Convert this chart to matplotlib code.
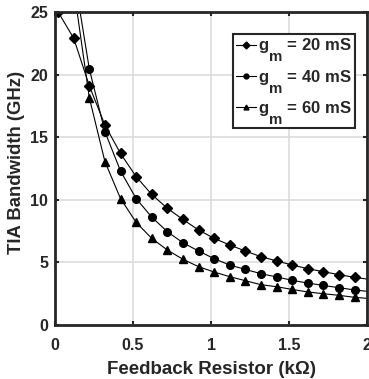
import matplotlib
matplotlib.use("Agg")
import matplotlib.pyplot as plt

plt.rcParams['font.family'] = ['Liberation Sans', 'DejaVu Sans']
plt.rcParams['font.weight'] = 'bold'
plt.rcParams['mathtext.fontset'] = 'custom'
plt.rcParams['mathtext.rm'] = 'Liberation Sans:bold'
plt.rcParams['mathtext.bf'] = 'Liberation Sans:bold'

# MATLAB-style large, deep subscripts in the legend
try:
    import matplotlib._mathtext as _mt
    _mt.SHRINK_FACTOR = 0.9
    _mt.FontConstantsBase.sub1 = 1.1
    _mt.FontConstantsBase.sub2 = 1.1
except Exception:
    pass

# Feedback resistor (kOhm); first and last entries are curve ends without markers
r_kohm = [0.0, 0.02, 0.12, 0.22, 0.32, 0.42, 0.52, 0.62, 0.72, 0.82, 0.92,
          1.02, 1.12, 1.22, 1.32, 1.42, 1.52, 1.62, 1.72, 1.82, 1.92, 2.0]

bw_20ms = [24.8, 25.0, 22.9, 19.1, 15.97, 13.7, 11.85, 10.43, 9.32, 8.43, 7.59,
           6.92, 6.39, 5.91, 5.46, 5.12, 4.79, 4.5, 4.26, 4.02, 3.81, 3.67]
bw_40ms = [None, None, 28.16, 20.45, 15.44, 12.3, 10.1, 8.62, 7.45, 6.57, 5.91,
           5.3, 4.79, 4.44, 4.1, 3.84, 3.57, 3.35, 3.16, 2.98, 2.8, 2.69]
bw_60ms = [None, None, 26.93, 18.15, 13.05, 10.1, 8.2, 6.92, 5.99, 5.25, 4.66,
           4.23, 3.86, 3.54, 3.22, 3.06, 2.84, 2.64, 2.5, 2.37, 2.21, 2.13]

labels = [r'g$_{\mathbf{m}}$ = 20 mS', r'g$_{\mathbf{m}}$ = 40 mS', r'g$_{\mathbf{m}}$ = 60 mS']
xticks = [0, 0.5, 1, 1.5, 2]
xticklabels = ['0', '0.5', '1', '1.5', '2']
yticks = [0, 5, 10, 15, 20, 25]

fig = plt.figure(figsize=(3.69, 3.79), dpi=100)
ax = fig.add_axes([55/369, 1 - 325/379, 312/369, 313/379])

def series(xs, ys):
    pts = [(x, y) for x, y in zip(xs, ys) if y is not None]
    return [p[0] for p in pts], [p[1] for p in pts]

x1, y1 = series(r_kohm, bw_20ms)
x2, y2 = series(r_kohm, bw_40ms)
x3, y3 = series(r_kohm, bw_60ms)

ax.plot(x1, y1, color='black', lw=0.8, marker='D', ms=5, markevery=slice(1, len(x1) - 1),
        label=labels[0])
ax.plot(x2, y2, color='black', lw=0.8, marker='o', ms=5.5, markevery=slice(1, len(x2) - 1),
        label=labels[1])
ax.plot(x3, y3, color='black', lw=0.8, marker='^', ms=6, markevery=slice(1, len(x3) - 1),
        label=labels[2])

ax.set_xlim(0, 2)
ax.set_ylim(0, 25)
ax.set_xticks(xticks)
ax.set_xticklabels(xticklabels)
ax.set_yticks(yticks)
ax.grid(True, color='#dcdcdc', lw=1.2)
ax.set_axisbelow(True)
ax.tick_params(direction='in', length=3, width=1.5, top=True, right=True,
               labelsize=11.5, colors='#262626', pad=5)
ax.tick_params(axis='x', pad=9)
for lab in ax.get_xticklabels() + ax.get_yticklabels():
    lab.set_fontweight('bold')
for s in ax.spines.values():
    s.set_linewidth(2)
    s.set_color('#262626')

ax.set_xlabel('Feedback Resistor (k\u03a9)', fontsize=13.5, fontweight='bold', color='#262626', labelpad=6)
ax.set_ylabel('TIA Bandwidth (GHz)', fontsize=13.3, fontweight='bold', color='#262626')
ax.yaxis.set_label_coords(-0.096, 0.52)

leg = ax.legend(loc='upper right', bbox_to_anchor=(0.96, 0.93), fontsize=12,
                handlelength=1.2, handletextpad=0.15, borderpad=0.15, labelspacing=0.25,
                fancybox=False, framealpha=1, borderaxespad=0)
leg.get_frame().set_edgecolor('#262626')
leg.get_frame().set_linewidth(1.5)
for t in leg.get_texts():
    t.set_color('#262626')
for h in leg.legend_handles:
    h.set_markersize(3.5)

fig.savefig('out.png', dpi=100)
